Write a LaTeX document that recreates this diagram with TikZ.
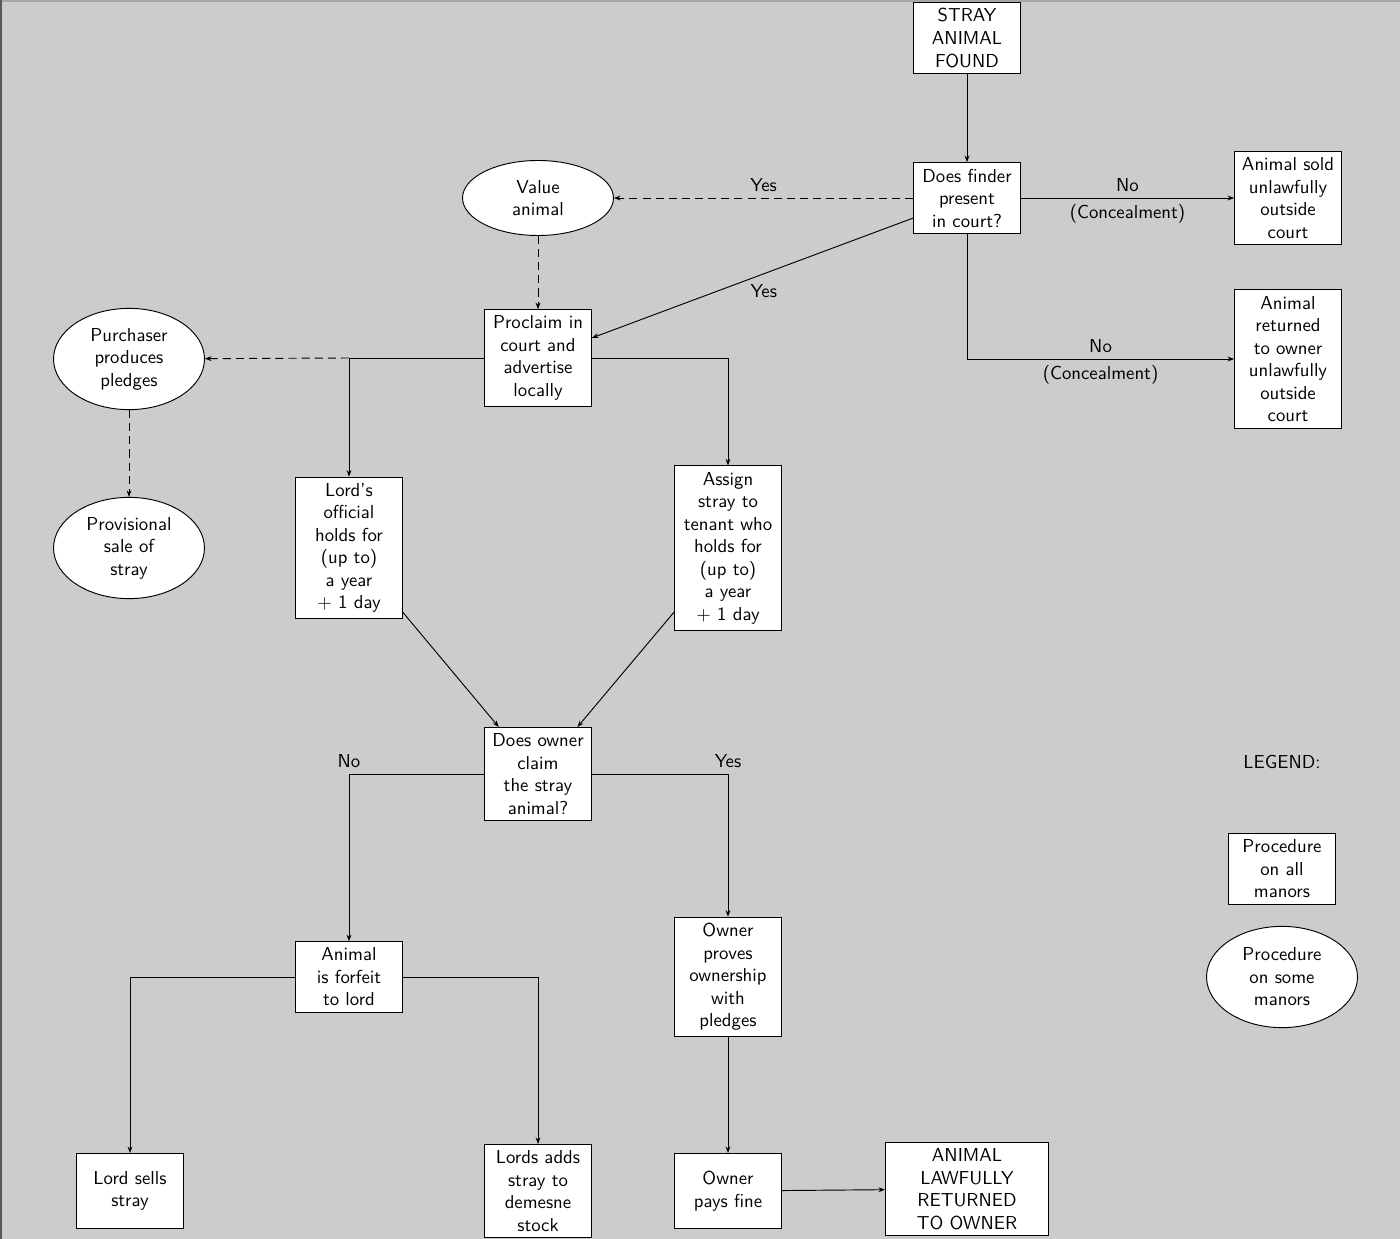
\documentclass[tikz,border=0pt]{standalone}
\usetikzlibrary{shapes.geometric,arrows.meta}
\definecolor{bgc}{HTML}{CCCCCC}
\begin{document}
\begin{tikzpicture}[x=0.5333pt,y=-0.5333pt, font=\sffamily,
  box/.style={draw, fill=white, align=center, minimum width=57pt, inner sep=3.3pt, line width=0.5pt},
  oval/.style={ellipse, draw, fill=white, align=center, minimum width=80.5pt, minimum height=54pt, inner sep=0pt, line width=0.5pt},
  arr/.style={-{Stealth[length=3.5pt,width=2.6pt]}, line width=0.5pt},
  dsh/.style={arr, dash pattern=on 4.3pt off 2.7pt},
  lbl/.style={inner sep=3.3pt}]
\useasboundingbox (0,0) rectangle (1400,1239);
\fill[bgc] (0,0) rectangle (1400,1239);
\draw[color=black!35, line width=1.2pt] (0,1) -- (1400,1);
\draw[color=black!65, line width=1.4pt] (1,0) -- (1,1239);

\node[box] (stray) at (967,38) {STRAY\\ANIMAL\\FOUND};
\node[box] (finder) at (967,198) {Does finder\\present\\in court?};
\node[box] (sold) at (1288,198) {Animal sold\\unlawfully\\outside\\court};
\node[box] (returned) at (1288,359) {Animal\\returned\\to owner\\unlawfully\\outside\\court};
\node[oval, minimum height=40pt] (value) at (538,198) {Value\\animal};
\node[box] (proclaim) at (538,358) {Proclaim in\\court and\\advertise\\locally};
\node[oval] (purchaser) at (129,359) {Purchaser\\produces\\pledges};
\node[oval] (provisional) at (129,548) {Provisional\\sale of\\stray};
\node[box] (lord) at (349,548) {Lord's\\official\\holds for\\(up to)\\a year\\$+$ 1 day};
\node[box] (assign) at (728,548) {Assign\\stray to\\tenant who\\holds for\\(up to)\\a year\\$+$ 1 day};
\node[box] (owner) at (538,774) {Does owner\\claim\\the stray\\animal?};
\node[box] (forfeit) at (349,977) {Animal\\is forfeit\\to lord};
\node[box] (proves) at (728,977) {Owner\\proves\\ownership\\with\\pledges};
\node[box, minimum height=40pt] (sells) at (130,1191) {Lord sells\\stray};
\node[box] (adds) at (538,1191) {Lords adds\\stray to\\demesne\\stock};
\node[box, minimum height=40pt] (pays) at (728,1191) {Owner\\pays fine};
\node[box, minimum width=87pt] (lawful) at (967,1189) {ANIMAL\\LAWFULLY\\RETURNED\\TO OWNER};
\node (legend) at (1282,762) {LEGEND:};
\node[box] (lgbox) at (1282,869) {Procedure\\on all\\manors};
\node[oval] (lgoval) at (1282,977) {Procedure\\on some\\manors};

\coordinate (split) at (proclaim.west -| lord.north);

\draw[arr] (stray) -- (finder);
\draw[arr] (finder) -- node[lbl, above] (no1) {No} node[lbl, below] (con1) {(Concealment)} (sold);
\draw[arr] (finder) |- node[lbl, pos=0.75, above] (no2) {No} node[lbl, pos=0.75, below] (con2) {(Concealment)} (returned);
\draw[dsh] (finder) -- node[lbl, above] (yes1) {Yes} (value);
\draw[arr] (finder) -- node[lbl, midway, below, xshift=6pt] (yes2) {Yes} (proclaim);
\draw[dsh] (value) -- (proclaim);
\draw[arr] (proclaim) -| (lord);
\draw[dsh] (split) -- (purchaser);
\draw[arr] (proclaim) -| (assign);
\draw[dsh] (purchaser) -- (provisional);
\draw[arr] (lord) -- (owner);
\draw[arr] (assign) -- (owner);
\draw[arr] (owner) -| node[lbl, pos=0.5, above] (no3) {No} (forfeit);
\draw[arr] (owner) -| node[lbl, pos=0.5, above] (yes3) {Yes} (proves);
\draw[arr] (forfeit) -| (sells);
\draw[arr] (forfeit) -| (adds);
\draw[arr] (proves) -- (pays);
\draw[arr] (pays) -- (lawful);
\end{tikzpicture}
\end{document}
